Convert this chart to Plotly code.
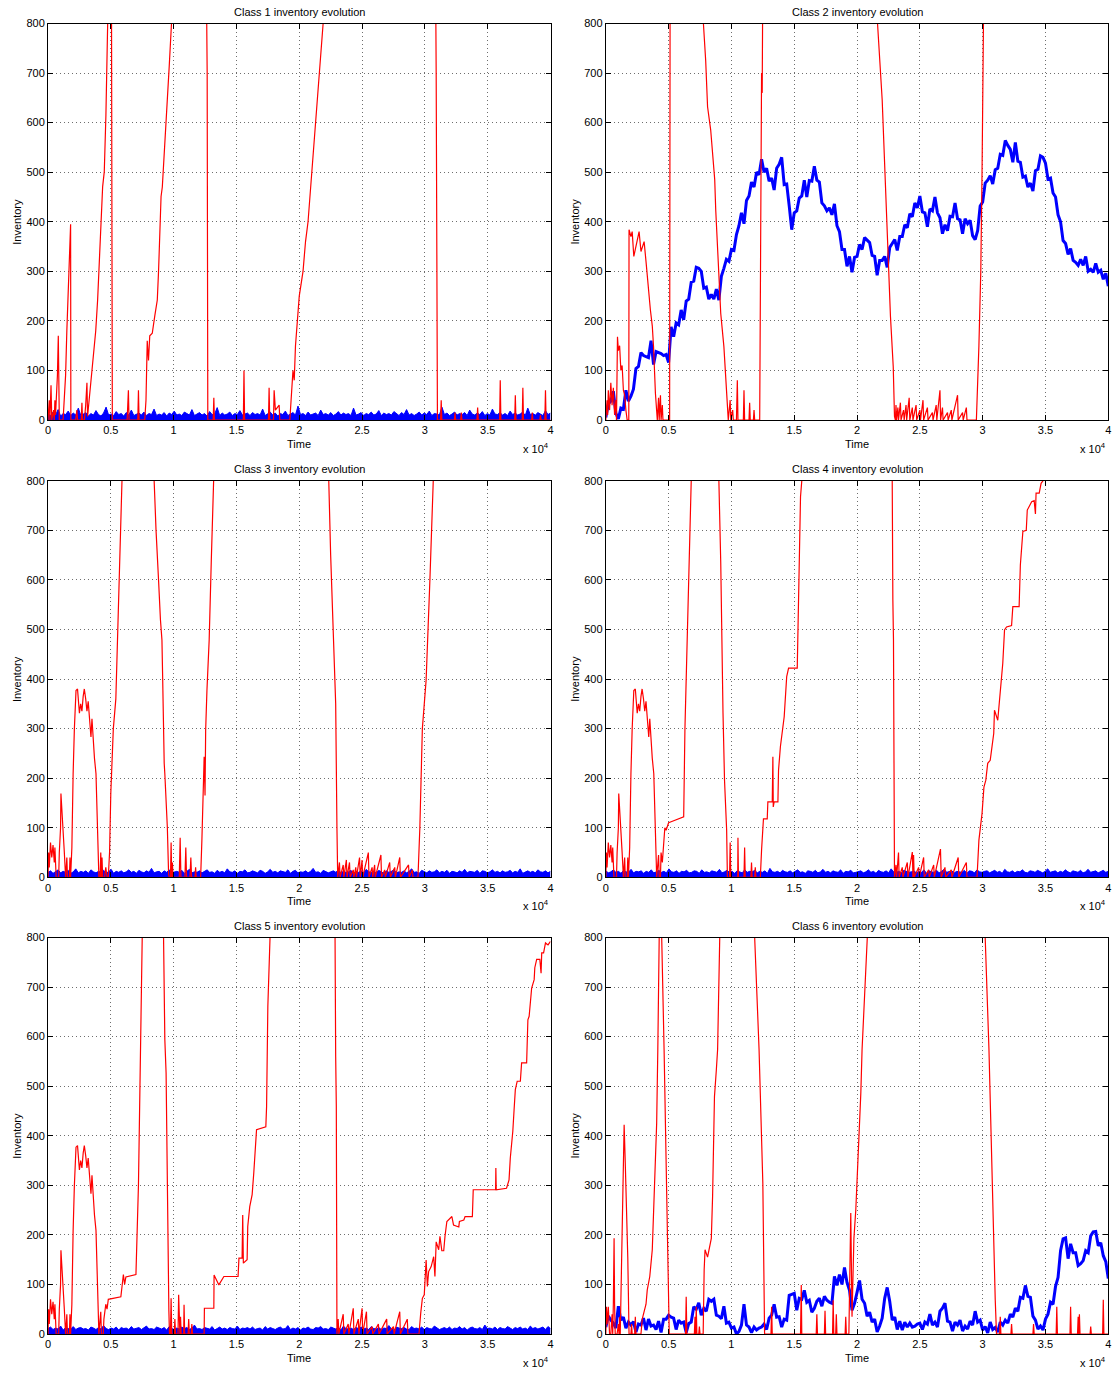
import numpy as np
import plotly.graph_objects as go

# ---------------------------------------------------------------------------
# Inventory traces, time in units of 10^4.  Red = backlog-side inventory,
# blue = on-hand inventory.  Values above 800 leave the plotted window.
# ---------------------------------------------------------------------------

red1 = [(0, 0), (0.01, 40), (0.015, 0), (0.024, 70), (0.03, 0), (0.045, 20), (0.05, 0), (0.055, 40),
        (0.06, 10), (0.07, 60), (0.075, 90), (0.082, 170), (0.086, 40), (0.09, 0), (0.12, 0), (0.13, 40),
        (0.14, 90), (0.15, 180), (0.16, 240), (0.17, 320), (0.18, 395), (0.182, 0), (0.22, 0), (0.23, 20),
        (0.235, 0), (0.265, 0), (0.27, 35), (0.275, 0), (0.29, 0), (0.30, 30), (0.31, 75), (0.315, 7),
        (0.33, 45), (0.342, 74), (0.35, 90), (0.368, 141), (0.38, 180), (0.395, 242), (0.41, 330),
        (0.42, 400), (0.435, 471), (0.448, 501), (0.461, 615), (0.475, 800), (0.49, 900), (0.505, 900),
        (0.507, 650), (0.509, 540), (0.512, 0), (0.63, 0), (0.64, 60), (0.645, 0), (0.715, 0), (0.72, 60),
        (0.725, 0), (0.77, 0), (0.78, 40), (0.79, 160), (0.80, 120), (0.81, 170), (0.83, 175), (0.85, 210),
        (0.87, 242), (0.88, 300), (0.89, 400), (0.90, 451), (0.91, 470), (0.925, 532), (0.94, 600),
        (0.952, 646), (0.965, 714), (0.983, 800), (1.0, 900), (1.26, 900), (1.265, 760), (1.267, 700),
        (1.272, 0), (1.315, 0), (1.32, 45), (1.325, 0), (1.555, 0), (1.56, 100), (1.565, 0), (1.755, 0),
        (1.76, 65), (1.765, 0), (1.795, 0), (1.80, 60), (1.81, 20), (1.84, 30), (1.845, 0), (1.925, 0),
        (1.935, 40), (1.95, 100), (1.96, 80), (1.97, 150), (1.985, 200), (2.0, 250), (2.03, 300),
        (2.05, 360), (2.07, 400), (2.10, 500), (2.13, 600), (2.16, 700), (2.19, 800), (2.2, 900),
        (3.085, 900), (3.09, 700), (3.095, 100), (3.097, 45), (3.10, 0), (3.125, 0), (3.13, 40), (3.135, 0),
        (3.235, 0), (3.24, 15), (3.245, 0), (3.285, 0), (3.29, 15), (3.295, 0), (3.415, 0), (3.42, 25),
        (3.425, 0), (3.595, 0), (3.60, 80), (3.605, 0), (3.715, 0), (3.72, 50), (3.725, 0), (3.775, 0),
        (3.78, 65), (3.785, 0), (3.85, 0), (3.855, 15), (3.86, 0), (3.915, 0), (3.92, 10), (3.925, 0),
        (3.955, 0), (3.96, 60), (3.965, 0), (4.0, 0)]

red2 = [(0, 0), (0.01, 40), (0.015, 10), (0.02, 60), (0.03, 20), (0.04, 75), (0.05, 30), (0.06, 65),
        (0.07, 10), (0.08, 40), (0.085, 0), (0.09, 100), (0.093, 168), (0.1, 140), (0.11, 150), (0.12, 100),
        (0.13, 110), (0.14, 60), (0.15, 50), (0.16, 20), (0.17, 0), (0.183, 0), (0.185, 384), (0.2, 370),
        (0.21, 380), (0.223, 330), (0.24, 350), (0.265, 380), (0.28, 340), (0.305, 360), (0.32, 320),
        (0.33, 290), (0.34, 260), (0.355, 222), (0.37, 190), (0.38, 148), (0.395, 54), (0.41, 0), (0.42, 45),
        (0.425, 0), (0.435, 50), (0.44, 0), (0.45, 30), (0.455, 0), (0.508, 0), (0.512, 900), (0.77, 900),
        (0.777, 800), (0.795, 726), (0.81, 632), (0.835, 585), (0.86, 511), (0.867, 485), (0.875, 424),
        (0.89, 337), (0.915, 215), (0.94, 148), (0.962, 47), (0.975, 0), (0.99, 40), (0.995, 0), (1.01, 20),
        (1.015, 0), (1.04, 0), (1.047, 80), (1.052, 0), (1.095, 0), (1.10, 60), (1.105, 0), (1.14, 0),
        (1.145, 35), (1.15, 0), (1.175, 0), (1.18, 20), (1.185, 0), (1.225, 0), (1.23, 240), (1.235, 500),
        (1.24, 700), (1.245, 660), (1.25, 900), (2.16, 900), (2.163, 800), (2.20, 646), (2.213, 559),
        (2.227, 444), (2.245, 310), (2.266, 209), (2.288, 108), (2.298, 7), (2.305, 0), (2.31, 30),
        (2.315, 0), (2.325, 25), (2.33, 0), (2.345, 35), (2.35, 0), (2.37, 20), (2.375, 0), (2.39, 30),
        (2.395, 0), (2.415, 45), (2.42, 0), (2.44, 25), (2.445, 0), (2.47, 30), (2.475, 0), (2.50, 20),
        (2.505, 0), (2.525, 40), (2.53, 0), (2.56, 25), (2.565, 0), (2.60, 15), (2.605, 0), (2.63, 30),
        (2.635, 0), (2.66, 60), (2.665, 0), (2.68, 25), (2.685, 0), (2.72, 15), (2.725, 0), (2.75, 20),
        (2.755, 0), (2.80, 50), (2.805, 0), (2.84, 15), (2.845, 0), (2.87, 25), (2.875, 0), (2.95, 0),
        (2.97, 150), (2.985, 300), (2.995, 500), (3.0, 800), (3.01, 900), (4.0, 900)]

red3 = [(0, 0), (0.005, 50), (0.01, 20), (0.02, 70), (0.03, 40), (0.04, 65), (0.05, 30), (0.055, 60),
        (0.065, 0), (0.085, 0), (0.09, 50), (0.1, 100), (0.103, 169), (0.11, 130), (0.12, 100), (0.13, 50),
        (0.14, 0), (0.15, 40), (0.155, 0), (0.17, 0), (0.175, 40), (0.18, 0), (0.19, 60), (0.196, 169),
        (0.2, 209), (0.21, 300), (0.223, 377), (0.235, 380), (0.25, 331), (0.26, 350), (0.27, 335),
        (0.28, 365), (0.289, 380), (0.3, 360), (0.31, 335), (0.32, 355), (0.33, 320), (0.342, 283),
        (0.35, 320), (0.36, 270), (0.37, 240), (0.382, 209), (0.39, 120), (0.40, 50), (0.405, 0), (0.415, 0),
        (0.42, 50), (0.425, 0), (0.43, 40), (0.435, 0), (0.45, 0), (0.46, 20), (0.47, 0), (0.48, 0),
        (0.49, 50), (0.50, 170), (0.51, 257), (0.52, 300), (0.54, 360), (0.554, 479), (0.57, 640),
        (0.59, 800), (0.6, 900), (0.84, 900), (0.845, 800), (0.86, 700), (0.875, 640), (0.88, 600),
        (0.895, 520), (0.907, 479), (0.912, 412), (0.917, 291), (0.925, 230), (0.93, 209), (0.937, 169),
        (0.95, 101), (0.96, 7), (0.965, 0), (0.975, 0), (0.98, 70), (0.985, 0), (0.99, 30), (0.995, 0),
        (1.045, 0), (1.052, 80), (1.058, 0), (1.09, 0), (1.097, 60), (1.103, 0), (1.13, 0), (1.137, 40),
        (1.143, 0), (1.17, 0), (1.175, 20), (1.18, 0), (1.215, 0), (1.225, 75), (1.243, 243), (1.25, 165),
        (1.255, 297), (1.265, 376), (1.283, 479), (1.3, 640), (1.32, 800), (1.33, 900), (2.23, 900),
        (2.235, 800), (2.25, 650), (2.27, 500), (2.28, 400), (2.29, 350), (2.30, 100), (2.306, 0),
        (2.32, 30), (2.325, 0), (2.35, 25), (2.355, 0), (2.375, 35), (2.38, 0), (2.40, 30), (2.405, 0),
        (2.43, 15), (2.435, 0), (2.45, 20), (2.455, 0), (2.48, 40), (2.485, 0), (2.50, 35), (2.505, 0),
        (2.55, 50), (2.555, 0), (2.58, 20), (2.585, 0), (2.60, 25), (2.605, 0), (2.65, 45), (2.655, 0),
        (2.68, 15), (2.685, 0), (2.72, 30), (2.725, 0), (2.76, 20), (2.765, 0), (2.80, 40), (2.805, 0),
        (2.87, 25), (2.875, 0), (2.90, 15), (2.905, 0), (2.945, 0), (2.96, 100), (2.98, 300), (3.01, 398),
        (3.04, 600), (3.07, 800), (3.08, 900), (4.0, 900)]

red4 = [(0, 0), (0.005, 50), (0.01, 20), (0.02, 70), (0.03, 40), (0.04, 65), (0.05, 30), (0.055, 60),
        (0.065, 0), (0.085, 0), (0.09, 50), (0.1, 100), (0.103, 169), (0.11, 130), (0.12, 100), (0.13, 50),
        (0.14, 0), (0.15, 40), (0.155, 0), (0.17, 0), (0.175, 40), (0.18, 0), (0.19, 60), (0.196, 169),
        (0.2, 209), (0.21, 300), (0.223, 377), (0.235, 380), (0.25, 331), (0.26, 350), (0.27, 335),
        (0.28, 365), (0.289, 380), (0.3, 360), (0.31, 335), (0.32, 355), (0.33, 320), (0.342, 283),
        (0.35, 320), (0.36, 270), (0.37, 240), (0.382, 209), (0.39, 120), (0.40, 50), (0.405, 0),
        (0.42, 45), (0.425, 0), (0.435, 0), (0.44, 50), (0.45, 30), (0.46, 80), (0.47, 100), (0.48, 95),
        (0.5, 110), (0.52, 112), (0.55, 115), (0.58, 118), (0.6, 120), (0.62, 122), (0.63, 300), (0.65, 500),
        (0.66, 600), (0.676, 800), (0.69, 900), (0.895, 900), (0.90, 802), (0.915, 634), (0.92, 519),
        (0.933, 331), (0.945, 196), (0.962, 95), (0.968, 0), (0.985, 0), (0.99, 70), (0.995, 0), (1.05, 0),
        (1.052, 80), (1.056, 0), (1.10, 0), (1.105, 60), (1.11, 0), (1.155, 0), (1.16, 30), (1.165, 0),
        (1.185, 0), (1.19, 20), (1.195, 0), (1.23, 0), (1.24, 55), (1.255, 118), (1.285, 118), (1.29, 152),
        (1.325, 152), (1.33, 243), (1.333, 142), (1.34, 152), (1.37, 152), (1.375, 216), (1.39, 264),
        (1.40, 283), (1.42, 324), (1.44, 405), (1.455, 422), (1.524, 422), (1.537, 600), (1.55, 768),
        (1.56, 800), (1.57, 900), (2.275, 900), (2.28, 800), (2.285, 560), (2.29, 480), (2.298, 0),
        (2.31, 25), (2.315, 0), (2.33, 50), (2.335, 0), (2.36, 20), (2.365, 0), (2.40, 30), (2.405, 0),
        (2.44, 51), (2.445, 0), (2.45, 45), (2.455, 0), (2.49, 20), (2.495, 0), (2.53, 40), (2.535, 0),
        (2.57, 15), (2.575, 0), (2.61, 25), (2.615, 0), (2.664, 57), (2.67, 0), (2.70, 20), (2.705, 0),
        (2.75, 15), (2.755, 0), (2.805, 40), (2.81, 0), (2.87, 30), (2.875, 0), (2.955, 0), (2.97, 75),
        (2.995, 129), (3.01, 182), (3.025, 196), (3.04, 230), (3.06, 236), (3.088, 290), (3.094, 337),
        (3.12, 317), (3.134, 364), (3.16, 432), (3.174, 499), (3.19, 505), (3.23, 508), (3.24, 546),
        (3.29, 546), (3.30, 630), (3.32, 698), (3.347, 700), (3.355, 741), (3.39, 758), (3.41, 760),
        (3.42, 733), (3.425, 775), (3.45, 775), (3.465, 795), (3.48, 800), (3.5, 900), (4.0, 900)]

red5 = [(0, 0), (0.005, 50), (0.01, 20), (0.02, 70), (0.03, 40), (0.04, 65), (0.05, 30), (0.055, 60),
        (0.065, 0), (0.085, 0), (0.09, 50), (0.1, 100), (0.103, 169), (0.11, 130), (0.12, 100), (0.13, 50),
        (0.14, 0), (0.15, 40), (0.155, 0), (0.17, 0), (0.175, 40), (0.18, 0), (0.19, 60), (0.196, 169),
        (0.2, 209), (0.21, 300), (0.223, 377), (0.235, 380), (0.25, 331), (0.26, 350), (0.27, 335),
        (0.28, 365), (0.289, 380), (0.3, 360), (0.31, 335), (0.32, 355), (0.33, 320), (0.342, 283),
        (0.35, 320), (0.36, 270), (0.37, 240), (0.382, 209), (0.39, 120), (0.40, 50), (0.405, 0),
        (0.42, 45), (0.425, 0), (0.44, 0), (0.445, 30), (0.46, 60), (0.47, 50), (0.48, 70), (0.52, 72),
        (0.56, 75), (0.58, 75), (0.60, 120), (0.61, 100), (0.62, 115), (0.66, 118), (0.70, 120), (0.72, 300),
        (0.735, 600), (0.75, 800), (0.76, 900), (0.915, 900), (0.92, 796), (0.93, 594), (0.94, 527),
        (0.947, 325), (0.955, 170), (0.962, 48), (0.967, 0), (0.975, 0), (0.98, 72), (0.985, 0), (1.005, 0),
        (1.01, 30), (1.015, 0), (1.035, 0), (1.04, 79), (1.045, 0), (1.05, 0), (1.055, 35), (1.06, 0),
        (1.08, 0), (1.083, 59), (1.088, 0), (1.115, 0), (1.12, 30), (1.125, 0), (1.14, 0), (1.145, 20),
        (1.15, 0), (1.243, 0), (1.245, 52), (1.32, 52), (1.322, 119), (1.36, 99), (1.40, 116), (1.513, 116),
        (1.52, 153), (1.545, 153), (1.55, 240), (1.555, 143), (1.585, 150), (1.59, 217), (1.606, 257),
        (1.625, 281), (1.638, 325), (1.652, 399), (1.66, 412), (1.734, 418), (1.74, 459), (1.75, 661),
        (1.76, 735), (1.767, 796), (1.78, 900), (2.28, 900), (2.285, 800), (2.29, 560), (2.295, 460),
        (2.30, 0), (2.31, 30), (2.315, 0), (2.35, 40), (2.355, 0), (2.39, 20), (2.395, 0), (2.43, 52),
        (2.435, 0), (2.47, 30), (2.475, 0), (2.50, 52), (2.505, 0), (2.535, 45), (2.54, 0), (2.58, 15),
        (2.585, 0), (2.63, 20), (2.635, 0), (2.696, 30), (2.70, 0), (2.75, 15), (2.755, 0), (2.80, 45),
        (2.805, 0), (2.86, 30), (2.865, 0), (2.953, 0), (2.967, 42), (2.98, 72), (2.995, 79), (3.01, 149),
        (3.02, 96), (3.03, 126), (3.05, 136), (3.07, 156), (3.08, 116), (3.09, 186), (3.11, 170),
        (3.12, 197), (3.135, 168), (3.15, 168), (3.16, 197), (3.175, 227), (3.215, 237), (3.228, 220),
        (3.27, 216), (3.275, 227), (3.31, 230), (3.32, 237), (3.378, 237), (3.385, 291), (3.563, 291),
        (3.565, 335), (3.568, 291), (3.65, 294), (3.67, 311), (3.68, 355), (3.69, 378), (3.70, 409),
        (3.71, 452), (3.72, 493), (3.735, 510), (3.76, 510), (3.77, 547), (3.81, 547), (3.82, 634),
        (3.83, 641), (3.85, 698), (3.87, 715), (3.875, 739), (3.89, 756), (3.915, 756), (3.925, 728),
        (3.93, 769), (3.945, 769), (3.96, 789), (3.98, 785), (4.0, 792)]

red6 = [(0, 0), (0.005, 55), (0.01, 20), (0.02, 55), (0.03, 0), (0.04, 0), (0.05, 40), (0.055, 0),
        (0.06, 60), (0.066, 193), (0.07, 60), (0.075, 0), (0.09, 0), (0.1, 20), (0.105, 0), (0.11, 35),
        (0.115, 0), (0.125, 120), (0.135, 240), (0.146, 422), (0.155, 345), (0.165, 270), (0.175, 155),
        (0.185, 0), (0.2, 0), (0.205, 20), (0.21, 0), (0.23, 0), (0.235, 35), (0.24, 0), (0.28, 0),
        (0.29, 30), (0.305, 48), (0.32, 60), (0.33, 89), (0.35, 116), (0.37, 170), (0.385, 291),
        (0.393, 318), (0.405, 426), (0.414, 574), (0.42, 800), (0.43, 900), (0.44, 900), (0.445, 800),
        (0.464, 574), (0.49, 250), (0.505, 0), (0.635, 0), (0.64, 75), (0.645, 0), (0.705, 0), (0.71, 35),
        (0.715, 0), (0.72, 55), (0.725, 0), (0.74, 0), (0.745, 15), (0.75, 0), (0.775, 0), (0.783, 129),
        (0.79, 170), (0.81, 155), (0.83, 183), (0.84, 193), (0.85, 277), (0.856, 405), (0.865, 479),
        (0.88, 533), (0.89, 574), (0.907, 800), (0.92, 900), (1.18, 900), (1.185, 800), (1.22, 574),
        (1.25, 304), (1.264, 0), (1.315, 0), (1.32, 55), (1.325, 0), (1.55, 0), (1.556, 99), (1.56, 0),
        (1.675, 0), (1.68, 40), (1.685, 0), (1.74, 0), (1.745, 47), (1.75, 0), (1.805, 0), (1.81, 68),
        (1.815, 0), (1.83, 0), (1.835, 40), (1.84, 0), (1.905, 0), (1.91, 35), (1.915, 0), (1.935, 0),
        (1.95, 244), (1.96, 35), (1.975, 193), (1.99, 250), (2.0, 304), (2.015, 392), (2.03, 486),
        (2.04, 574), (2.09, 800), (2.1, 900), (3.01, 900), (3.02, 800), (3.05, 574), (3.075, 304),
        (3.094, 156), (3.10, 69), (3.11, 0), (3.135, 0), (3.14, 35), (3.145, 0), (3.225, 0), (3.23, 20),
        (3.235, 0), (3.40, 0), (3.405, 20), (3.41, 0), (3.585, 0), (3.59, 55), (3.595, 0), (3.695, 0),
        (3.70, 55), (3.705, 0), (3.755, 0), (3.76, 35), (3.765, 0), (3.77, 40), (3.775, 0), (3.855, 0),
        (3.86, 15), (3.865, 0), (3.955, 0), (3.96, 69), (3.965, 0), (4.0, 0)]

# On-hand inventory that stays close to zero: 200 evenly spaced samples each.
blue1 = [12, 9, 16, 10, 21, 8, 13, 11, 18, 9, 14, 10, 24, 9, 12, 15, 8, 13, 10, 19,
         11, 8, 14, 26, 10, 12, 9, 17, 11, 13, 8, 15, 10, 20, 9, 12, 14, 10, 16, 9,
         13, 11, 22, 9, 12, 10, 15, 8, 14, 11, 18, 10, 12, 9, 16, 13, 10, 21, 9, 12,
         15, 10, 13, 8, 17, 11, 12, 25, 9, 14, 10, 12, 16, 9, 13, 11, 19, 10, 12, 14,
         9, 15, 11, 13, 10, 22, 9, 12, 16, 10, 14, 8, 13, 11, 18, 9, 12, 15, 10, 28,
         11, 13, 9, 16, 10, 12, 14, 9, 20, 11, 13, 10, 15, 9, 12, 17, 10, 14, 11, 13,
         9, 24, 10, 12, 15, 9, 13, 11, 16, 10, 12, 19, 9, 14, 11, 13, 10, 17, 12, 9,
         15, 11, 21, 10, 13, 9, 12, 16, 10, 14, 11, 18, 9, 13, 12, 10, 26, 11, 14, 9,
         12, 16, 10, 13, 11, 15, 9, 20, 12, 10, 14, 11, 17, 9, 13, 10, 22, 12, 11, 15,
         10, 13, 9, 18, 11, 14, 10, 12, 16, 9, 24, 11, 13, 10, 15, 12, 9, 19, 11, 14]
blue3 = [10, 13, 8, 11, 15, 9, 12, 10, 14, 8, 11, 17, 9, 12, 10, 13, 8, 15, 11, 9,
         12, 10, 14, 9, 11, 16, 8, 12, 10, 13, 9, 11, 15, 10, 12, 8, 14, 11, 9, 13,
         10, 18, 9, 11, 12, 8, 13, 10, 15, 9, 11, 12, 10, 14, 8, 12, 16, 9, 11, 10,
         13, 9, 12, 15, 10, 11, 8, 14, 10, 12, 9, 17, 11, 10, 13, 8, 12, 11, 15, 9,
         10, 13, 11, 9, 14, 12, 8, 11, 16, 10, 12, 9, 13, 11, 10, 15, 8, 12, 14, 9,
         11, 10, 13, 9, 12, 18, 10, 11, 8, 14, 12, 9, 11, 13, 10, 15, 9, 12, 10, 11,
         14, 8, 12, 10, 13, 9, 16, 11, 10, 12, 9, 14, 11, 8, 13, 10, 12, 15, 9, 11,
         10, 13, 9, 12, 17, 10, 11, 8, 14, 12, 9, 13, 10, 11, 15, 9, 12, 10, 14, 8,
         12, 11, 9, 13, 10, 16, 9, 12, 11, 10, 14, 8, 13, 12, 9, 11, 15, 10, 12, 9,
         13, 10, 11, 14, 9, 12, 10, 17, 8, 11, 13, 10, 12, 9, 15, 11, 10, 13, 9, 12]
blue4 = [13, 9, 11, 15, 10, 12, 8, 14, 11, 10, 16, 9, 12, 11, 13, 8, 12, 10, 15, 9,
         11, 14, 10, 12, 9, 17, 11, 10, 13, 8, 12, 11, 14, 9, 10, 13, 12, 8, 15, 10,
         11, 9, 13, 12, 10, 16, 9, 11, 14, 10, 12, 8, 13, 11, 9, 15, 10, 12, 11, 14,
         9, 12, 10, 13, 8, 18, 11, 10, 12, 9, 14, 11, 10, 13, 9, 12, 15, 10, 11, 8,
         13, 12, 10, 14, 9, 11, 16, 10, 12, 9, 13, 11, 10, 15, 8, 12, 11, 14, 9, 10,
         12, 13, 9, 11, 15, 10, 12, 8, 14, 11, 10, 13, 9, 17, 11, 10, 12, 9, 14, 12,
         10, 11, 13, 9, 12, 10, 15, 8, 13, 11, 10, 14, 9, 12, 16, 10, 11, 13, 9, 12,
         11, 10, 14, 8, 13, 12, 9, 15, 11, 10, 12, 13, 9, 11, 14, 10, 12, 8, 16, 11,
         10, 13, 9, 12, 11, 15, 10, 9, 13, 12, 10, 14, 11, 9, 12, 17, 10, 11, 13, 9,
         12, 10, 15, 11, 9, 13, 12, 10, 14, 9, 11, 16, 10, 12, 13, 9, 11, 14, 10, 12]
blue5 = [11, 14, 9, 12, 10, 16, 8, 13, 11, 10, 15, 9, 12, 13, 10, 11, 8, 14, 12, 9,
         13, 10, 17, 11, 9, 12, 10, 14, 8, 13, 11, 12, 9, 15, 10, 11, 13, 9, 12, 16,
         10, 11, 9, 14, 12, 10, 13, 8, 15, 11, 9, 12, 10, 14, 11, 13, 9, 12, 18, 10,
         11, 9, 13, 12, 10, 15, 8, 11, 14, 10, 12, 9, 13, 11, 10, 16, 9, 12, 11, 13,
         10, 14, 9, 11, 12, 8, 15, 10, 13, 11, 9, 12, 14, 10, 11, 17, 9, 12, 10, 13,
         8, 12, 11, 14, 10, 9, 13, 12, 15, 10, 11, 9, 14, 12, 10, 13, 8, 16, 11, 10,
         12, 9, 13, 11, 14, 10, 12, 9, 15, 11, 10, 13, 9, 12, 11, 17, 10, 8, 14, 12,
         11, 13, 10, 9, 15, 11, 12, 10, 14, 9, 13, 11, 10, 16, 12, 9, 11, 13, 10, 14,
         9, 12, 11, 15, 10, 13, 8, 12, 14, 11, 10, 13, 9, 18, 11, 12, 10, 14, 9, 13,
         11, 10, 15, 12, 9, 13, 11, 14, 10, 12, 9, 16, 11, 13, 10, 12, 14, 9, 15, 11]

# On-hand inventory that drifts (classes 2 and 6), sampled every 0.02 x 10^4.
blue2 = [5, 32, 38, 58, 14, 2, 24, 22, 60, 38,
         48, 62, 104, 108, 136, 130, 128, 126, 160, 112,
         138, 136, 134, 130, 132, 116, 188, 168, 196, 192,
         222, 202, 240, 244, 278, 280, 308, 306, 300, 266,
         268, 244, 253, 244, 264, 242, 290, 306, 324, 320,
         344, 342, 374, 392, 418, 396, 443, 452, 480, 470,
         500, 495, 526, 500, 508, 482, 488, 464, 508, 516,
         530, 475, 476, 432, 384, 418, 422, 448, 452, 484,
         450, 483, 482, 512, 484, 480, 438, 432, 422, 428,
         414, 436, 392, 380, 344, 344, 310, 330, 298, 328,
         330, 354, 344, 368, 362, 358, 332, 330, 292, 322,
         322, 330, 308, 348, 356, 364, 342, 370, 370, 394,
         388, 416, 410, 438, 428, 452, 420, 418, 390, 426,
         422, 450, 418, 408, 376, 394, 382, 411, 410, 438,
         406, 404, 376, 406, 396, 403, 372, 364, 382, 432,
         440, 478, 484, 493, 476, 505, 508, 536, 534, 564,
         554, 546, 520, 560, 522, 520, 490, 492, 470, 478,
         462, 503, 506, 533, 530, 518, 486, 488, 458, 450,
         414, 400, 362, 356, 334, 346, 322, 318, 312, 324,
         312, 330, 300, 304, 298, 316, 298, 302, 284, 296,
         270]
blue6 = [14, 36, 28, 22, 12, 56, 28, 34, 12, 24,
         18, 25, 4, 20, 18, 32, 8, 30, 16, 18,
         9, 26, 3, 30, 30, 38, 34, 32, 9, 28,
         22, 24, 3, 21, 24, 55, 50, 63, 38, 52,
         46, 70, 66, 70, 38, 36, 31, 56, 22, 24,
         12, 14, 0, 5, 18, 60, 18, 14, 3, 14,
         8, 12, 14, 20, 9, 32, 38, 60, 34, 35,
         14, 30, 28, 78, 80, 82, 48, 72, 70, 88,
         64, 68, 44, 52, 66, 72, 56, 76, 68, 64,
         62, 116, 98, 120, 100, 134, 104, 88, 48, 62,
         84, 108, 70, 62, 36, 44, 24, 30, 4, 16,
         32, 72, 94, 66, 28, 34, 9, 26, 8, 24,
         14, 22, 14, 16, 20, 22, 9, 24, 20, 40,
         18, 24, 14, 46, 52, 62, 26, 24, 6, 24,
         18, 28, 6, 16, 10, 26, 18, 46, 24, 28,
         8, 15, 2, 24, 9, 13, 4, 24, 18, 28,
         22, 40, 34, 52, 46, 74, 72, 98, 76, 74,
         36, 28, 10, 16, 8, 30, 40, 64, 60, 96,
         114, 168, 192, 194, 152, 182, 164, 164, 138, 142,
         148, 168, 164, 198, 206, 207, 178, 184, 158, 146,
         112]

titles = [f"Class {k} inventory evolution" for k in range(1, 7)]
x_ticks = [0, 0.5, 1, 1.5, 2, 2.5, 3, 3.5, 4]
x_tick_text = ["0", "0.5", "1", "1.5", "2", "2.5", "3", "3.5", "4"]
y_ticks = [0, 100, 200, 300, 400, 500, 600, 700, 800]

RED = "#ff0000"
BLUE = "#0000ff"
FONT = "Liberation Sans, Arial, Helvetica, sans-serif"
W, H = 1113, 1373

# Plot-area boxes in pixels: (left, right) per column, (top, bottom) per row
COLS = [(48.0, 550.5), (605.8, 1108.3)]
ROWS = [(23.5, 420.0), (480.8, 877.3), (937.5, 1334.0)]

fig = go.Figure()
layout = dict(
    width=W, height=H, margin=dict(l=0, r=0, t=0, b=0, autoexpand=False),
    paper_bgcolor="white", plot_bgcolor="white", showlegend=False,
    font=dict(family=FONT, size=11, color="black"),
)
annotations = []

reds = [red1, red2, red3, red4, red5, red6]
blue_bands = {1: blue1, 3: blue3, 4: blue4, 5: blue5}
blue_walks = {2: blue2, 6: blue6}

for i in range(6):
    k = i + 1
    r, c = divmod(i, 2)
    x0, x1 = COLS[c]
    top, bot = ROWS[r]
    xd = [x0 / W, x1 / W]
    yd = [1 - bot / H, 1 - top / H]
    sfx = "" if k == 1 else str(k)
    xa, ya = "x" + sfx, "y" + sfx

    axis_common = dict(
        showline=True, linecolor="black", linewidth=1, mirror="ticks",
        ticks="inside", ticklen=5, tickwidth=1, tickcolor="black",
        showgrid=True, gridcolor="#6e6e6e", gridwidth=1, griddash="1px,3px",
        zeroline=False, tickfont=dict(family=FONT, size=11, color="black"),
        fixedrange=True, automargin=False,
    )
    layout["xaxis" + sfx] = dict(axis_common, domain=xd, range=[0, 4], anchor=ya,
                                 tickmode="array", tickvals=x_ticks, ticktext=x_tick_text)
    layout["yaxis" + sfx] = dict(axis_common, domain=yd, range=[0, 800], anchor=xa,
                                 tickmode="array", tickvals=y_ticks)

    # blue: on-hand inventory
    if k in blue_bands:
        vals = blue_bands[k]
        tb = np.linspace(0, 4, len(vals))
        fig.add_trace(go.Scatter(x=tb, y=vals, mode="lines", xaxis=xa, yaxis=ya,
                                 line=dict(color=BLUE, width=1), fill="tozeroy",
                                 fillcolor=BLUE, hoverinfo="skip"))
    else:
        vals = blue_walks[k]
        tw = np.linspace(0, 4, len(vals))
        fig.add_trace(go.Scatter(x=tw, y=vals, mode="lines", xaxis=xa, yaxis=ya,
                                 line=dict(color=BLUE, width=3), hoverinfo="skip"))

    # red: second inventory trace on top
    tr, vr = zip(*reds[i])
    fig.add_trace(go.Scatter(x=tr, y=vr, mode="lines", xaxis=xa, yaxis=ya,
                             line=dict(color=RED, width=1.2), hoverinfo="skip"))

    cx = (xd[0] + xd[1]) / 2
    annotations += [
        dict(text=titles[i], xref="paper", yref="paper", x=cx, y=yd[1], xanchor="center",
             yanchor="bottom", yshift=4, showarrow=False, font=dict(size=11)),
        dict(text="Time", xref="paper", yref="paper", x=cx, y=yd[0], xanchor="center",
             yanchor="top", yshift=-16, showarrow=False, font=dict(size=11)),
        dict(text="Inventory", xref="paper", yref="paper", x=xd[0], y=(yd[0] + yd[1]) / 2,
             xanchor="center", yanchor="middle", xshift=-31, textangle=-90, showarrow=False,
             font=dict(size=11)),
        dict(text="x 10<sup>4</sup>", xref="paper", yref="paper", x=xd[1], y=yd[0],
             xanchor="right", yanchor="top", yshift=-19, showarrow=False, font=dict(size=11)),
    ]

layout["annotations"] = annotations
fig.update_layout(**layout)
fig.write_html("out.html", config={"displayModeBar": False})
